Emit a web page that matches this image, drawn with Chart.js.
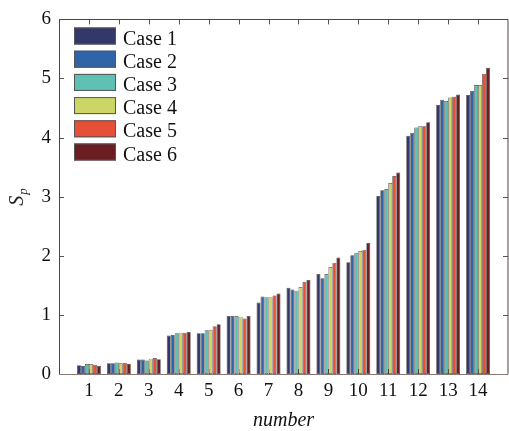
<!DOCTYPE html>
<html>
<head>
<meta charset="utf-8">
<script src="https://cdn.jsdelivr.net/npm/chart.js@4.4.1/dist/chart.umd.min.js"></script>
<style>
  html, body { margin: 0; padding: 0; background: #fff; overflow: hidden; }
  #wrap { width: 514px; height: 431px; }
</style>
</head>
<body>
<div id="wrap"><canvas id="c" width="514" height="431"></canvas></div>
<script>
const categories = ['1','2','3','4','5','6','7','8','9','10','11','12','13','14'];
const seriesNames = ['Case 1','Case 2','Case 3','Case 4','Case 5','Case 6'];
const seriesColors = ['#323869','#3163a8','#5fc1b4','#ccd665','#e64f38','#6b1e22'];
const case1 = [0.15, 0.18, 0.245, 0.65, 0.69, 0.98, 1.21, 1.46, 1.69, 1.89, 3.01, 4.03, 4.55, 4.72];
const case2 = [0.135, 0.18, 0.245, 0.66, 0.69, 0.98, 1.31, 1.43, 1.62, 2.01, 3.11, 4.08, 4.64, 4.79];
const case3 = [0.17, 0.195, 0.23, 0.69, 0.74, 0.98, 1.30, 1.41, 1.69, 2.05, 3.13, 4.17, 4.62, 4.89];
const case4 = [0.17, 0.18, 0.26, 0.70, 0.75, 0.97, 1.30, 1.47, 1.81, 2.08, 3.23, 4.19, 4.68, 4.89];
const case5 = [0.155, 0.19, 0.27, 0.70, 0.81, 0.94, 1.33, 1.56, 1.88, 2.10, 3.35, 4.19, 4.69, 5.08];
const case6 = [0.14, 0.175, 0.25, 0.71, 0.84, 0.98, 1.36, 1.59, 1.97, 2.22, 3.41, 4.26, 4.73, 5.18];
const yTicks = [0, 1, 2, 3, 4, 5, 6];
const xTitle = 'number';
const yTitleMain = 'S';
const yTitleSub = 'p';

const allSeries = [case1, case2, case3, case4, case5, case6];
// pad with empty categories at both ends (axis spans 0..15)
const labels = [''].concat(categories, ['']);
const datasets = allSeries.map((vals, i) => ({
  label: seriesNames[i],
  data: [null].concat(vals, [null]),
  backgroundColor: seriesColors[i],
  borderColor: 'rgba(45,40,40,0.85)',
  borderWidth: 0.7,
  borderSkipped: false,
  categoryPercentage: 0.8,
  barPercentage: 1.0
}));

const SERIF = '"Liberation Serif", "Times New Roman", serif';

const framePlugin = {
  id: 'frame',
  beforeDatasetsDraw(chart) {
    const {ctx, chartArea: a, scales: {x, y}} = chart;
    ctx.save();
    ctx.strokeStyle = '#555';
    ctx.lineWidth = 1;
    ctx.beginPath();
    for (let i = 1; i <= categories.length; i++) {
      const px = Math.round(x.getPixelForValue(i)) + 0.5;
      ctx.moveTo(px, a.top); ctx.lineTo(px, a.top + 5);
      ctx.moveTo(px, a.bottom); ctx.lineTo(px, a.bottom - 5);
    }
    yTicks.forEach(v => {
      const py = Math.round(y.getPixelForValue(v)) + 0.5;
      ctx.moveTo(a.left, py); ctx.lineTo(a.left + 5, py);
      ctx.moveTo(a.right, py); ctx.lineTo(a.right - 5, py);
    });
    ctx.stroke();
    ctx.restore();
  },
  afterDatasetsDraw(chart) {
    const {ctx, chartArea: a} = chart;
    ctx.save();
    ctx.lineWidth = 1;
    ctx.strokeStyle = '#4e4444';
    ctx.beginPath();
    ctx.moveTo(Math.round(a.left) + 0.5, a.bottom);
    ctx.lineTo(Math.round(a.left) + 0.5, Math.round(a.top) + 0.5);
    ctx.lineTo(a.right, Math.round(a.top) + 0.5);
    ctx.lineTo(a.right, a.bottom);
    ctx.stroke();
    ctx.strokeStyle = '#8a7874';
    ctx.beginPath();
    ctx.moveTo(a.left, Math.round(a.bottom) + 0.5);
    ctx.lineTo(a.right, Math.round(a.bottom) + 0.5);
    ctx.stroke();

    // legend inside plot
    const bx = 74, bw = 42, bh = 17, y0 = 27.5, step = 23.2;
    ctx.font = '20px ' + SERIF;
    ctx.textBaseline = 'alphabetic';
    ctx.textAlign = 'left';
    chart.data.datasets.forEach((ds, i) => {
      const ty = y0 + i * step;
      ctx.fillStyle = ds.backgroundColor;
      ctx.fillRect(bx, ty, bw, bh);
      ctx.strokeStyle = '#555';
      ctx.lineWidth = 1;
      ctx.strokeRect(bx + 0.5, ty + 0.5, bw - 1, bh - 1);
      ctx.fillStyle = '#111';
      ctx.fillText(ds.label, 123, ty + bh);
    });

    // y axis title S_p (rotated)
    ctx.translate(23, 197);
    ctx.rotate(-Math.PI / 2);
    ctx.fillStyle = '#222';
    ctx.font = 'italic 20px ' + SERIF;
    ctx.textBaseline = 'alphabetic';
    const wS = ctx.measureText(yTitleMain).width;
    ctx.font = 'italic 13px ' + SERIF;
    const wp = ctx.measureText(yTitleSub).width;
    const total = wS + wp + 1;
    ctx.font = 'italic 20px ' + SERIF;
    ctx.fillText(yTitleMain, -total / 2, 0);
    ctx.font = 'italic 13px ' + SERIF;
    ctx.fillText(yTitleSub, -total / 2 + wS + 1, 4);
    ctx.restore();
  }
};

new Chart(document.getElementById('c'), {
  type: 'bar',
  data: { labels, datasets },
  options: {
    responsive: false,
    animation: false,
    layout: { padding: { left: 0, top: 15, right: 2, bottom: 0 } },
    plugins: { legend: { display: false }, tooltip: { enabled: false } },
    scales: {
      x: {
        offset: false,
        grid: { display: false, drawTicks: false },
        border: { display: false },
        ticks: {
          autoSkip: false, maxRotation: 0, padding: 6,
          color: '#111', font: { family: SERIF, size: 19 }
        },
        title: {
          display: true, text: xTitle, color: '#111',
          font: { family: SERIF, size: 20, style: 'italic', lineHeight: 1.0 },
          padding: { top: 0, bottom: 0 }
        },
        afterFit(scale) { scale.height = 57; }
      },
      y: {
        min: 0, max: 6,
        grid: { display: false, drawTicks: false },
        border: { display: false },
        ticks: {
          stepSize: 1, padding: 8, color: '#111',
          font: { family: SERIF, size: 19 }
        },
        afterFit(scale) { scale.width = 59; }
      }
    }
  },
  plugins: [framePlugin]
});
</script>
</body>
</html>
